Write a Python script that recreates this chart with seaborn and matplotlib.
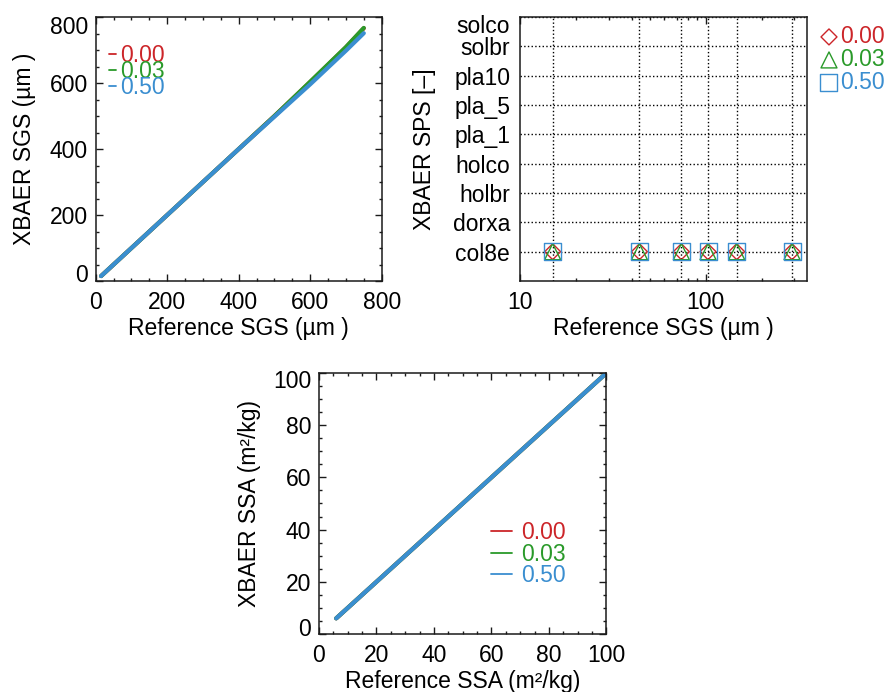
import numpy as np
import pandas as pd
import matplotlib
matplotlib.use("Agg")
import matplotlib.pyplot as plt
import seaborn as sns
from matplotlib.ticker import MultipleLocator, NullFormatter, LogLocator
from matplotlib.transforms import ScaledTranslation

# ---------------- data ----------------
series_labels = ["0.00", "0.03", "0.50"]
series_colors = ["#CC2529", "#2A9A2A", "#3A8ED0"]
series_markers = ["D", "^", "s"]
series_msize = [66, 132, 150]

# Panel 1: SGS
ref_sgs = [15, 100, 200, 300, 400, 500, 600, 700, 750]
xbaer_sgs_000 = [15, 100, 200, 300, 400, 500, 603, 708, 766]
xbaer_sgs_003 = [15, 100, 200, 300, 400, 500, 604, 709, 767]
xbaer_sgs_050 = [15, 100, 200, 300, 400, 498, 596, 698, 751]

# Panel 2: SPS
sps_categories = ["col8e", "dorxa", "holbr", "holco", "pla_1",
                  "pla_5", "pla10", "solbr", "solco"]
ref_sps_sgs = [15, 44, 74, 103, 147, 292]
xbaer_sps_000 = ["col8e", "col8e", "col8e", "col8e", "col8e", "col8e"]
xbaer_sps_003 = ["col8e", "col8e", "col8e", "col8e", "col8e", "col8e"]
xbaer_sps_050 = ["col8e", "col8e", "col8e", "col8e", "col8e", "col8e"]

# Panel 3: SSA
ref_ssa = [6, 20, 40, 60, 80, 100]
xbaer_ssa_000 = [6, 20, 40, 60, 80, 100]
xbaer_ssa_003 = [6, 20, 40, 60, 80, 100]
xbaer_ssa_050 = [6, 20, 40, 60, 80, 100]

# ---------------- style ----------------
sns.set_style("ticks")
plt.rcParams["font.family"] = ["Liberation Sans", "DejaVu Sans"]
FS = 16.5
plt.rcParams["font.size"] = FS
for k in ["text.color", "axes.labelcolor", "xtick.color", "ytick.color",
          "axes.edgecolor"]:
    plt.rcParams[k] = "black"

fig = plt.figure(figsize=(8.87, 6.92), dpi=100)
fig.patch.set_facecolor("white")

ax1 = fig.add_axes([0.1079, 0.5939, 0.3224, 0.3815])
ax2 = fig.add_axes([0.5862, 0.5939, 0.3232, 0.3815])
ax3 = fig.add_axes([0.3596, 0.0838, 0.3241, 0.3772])


def style_axes(ax):
    for sp in ax.spines.values():
        sp.set_visible(True)
        sp.set_linewidth(1.1)
        sp.set_color("#1a1a1a")
    ax.set_facecolor("white")
    ax.tick_params(which="both", direction="in", top=True, right=True,
                   color="#1a1a1a", labelcolor="black", labelsize=FS,
                   width=1.0)
    ax.tick_params(which="major", length=5)
    ax.tick_params(which="minor", length=2.5)
    ax.tick_params(axis="x", pad=7)
    ax.tick_params(axis="y", pad=5.5)


def long_df(ref, ys):
    return pd.DataFrame({
        "ref": list(ref) * len(ys),
        "val": [v for y in ys for v in y],
        "series": [lab for lab, y in zip(series_labels, ys) for _ in y],
    })


# ---------------- panel 1 ----------------
df1 = long_df(ref_sgs, [xbaer_sgs_000, xbaer_sgs_003, xbaer_sgs_050])
sns.lineplot(data=df1, x="ref", y="val", hue="series", hue_order=series_labels,
             palette=series_colors, lw=3.0, ax=ax1, legend=False,
             estimator=None, sort=False)
style_axes(ax1)
ax1.set_xlim(0, 800)
ax1.set_ylim(0, 800)
ax1.xaxis.set_major_locator(MultipleLocator(200))
ax1.xaxis.set_minor_locator(MultipleLocator(50))
ax1.yaxis.set_major_locator(MultipleLocator(200))
ax1.yaxis.set_minor_locator(MultipleLocator(50))
ax1.set_xlabel("Reference SGS (µm )", fontsize=FS, labelpad=2)
ax1.set_ylabel("XBAER SGS (µm )", fontsize=FS, labelpad=10)
leg1 = ax1.legend(handles=ax1.get_lines()[:3], labels=series_labels,
                  loc="upper left", bbox_to_anchor=(0.0465, 0.898),
                  frameon=False, borderpad=0, borderaxespad=0,
                  handlelength=0.3, handletextpad=0.2, labelspacing=-0.31,
                  fontsize=FS, labelcolor=series_colors)
for ln in leg1.get_lines():
    ln.set_linewidth(1.3)

# ---------------- panel 2 ----------------
ax2.set_xscale("log")
for lab, col, mk, ms, ys in zip(series_labels, series_colors, series_markers,
                                series_msize,
                                [xbaer_sps_000, xbaer_sps_003, xbaer_sps_050]):
    yidx = [sps_categories.index(v) for v in ys]
    sns.scatterplot(x=ref_sps_sgs, y=yidx, marker=mk, s=ms, facecolor="none",
                    edgecolor=col, linewidth=1.0, ax=ax2, label=lab,
                    legend=False, zorder=3)
style_axes(ax2)
ax2.set_xlim(10, 350)
ax2.set_ylim(-1, 8)
ax2.set_xticks([10, 100], ["10", "100"])
ax2.xaxis.set_minor_locator(LogLocator(base=10, subs=np.arange(2, 10)))
ax2.xaxis.set_minor_formatter(NullFormatter())
ax2.set_yticks(range(len(sps_categories)), sps_categories)
ax2.tick_params(axis="y", which="both", length=0, pad=7)
ax2.yaxis.grid(True, linestyle=":", color="black", linewidth=1.0)
for xv in ref_sps_sgs:
    ax2.axvline(xv, linestyle=":", color="black", linewidth=1.0, zorder=1)
ax2.set_xlabel("Reference SGS (µm )", fontsize=FS, labelpad=2)
ax2.set_ylabel("XBAER SPS [–]", fontsize=FS, labelpad=12)
leg2 = ax2.legend(handles=ax2.collections[:3], labels=series_labels,
                  loc="upper left", bbox_to_anchor=(1.05, 0.97),
                  frameon=False, borderpad=0, borderaxespad=0,
                  handlelength=0.7, handletextpad=0.15, labelspacing=0.0,
                  scatterpoints=1, fontsize=FS, labelcolor=series_colors)

# ---------------- panel 3 ----------------
df3 = long_df(ref_ssa, [xbaer_ssa_000, xbaer_ssa_003, xbaer_ssa_050])
sns.lineplot(data=df3, x="ref", y="val", hue="series", hue_order=series_labels,
             palette=series_colors, lw=3.0, ax=ax3, legend=False,
             estimator=None, sort=False)
style_axes(ax3)
ax3.set_xlim(0, 100)
ax3.set_ylim(0, 100)
ax3.xaxis.set_major_locator(MultipleLocator(20))
ax3.xaxis.set_minor_locator(MultipleLocator(5))
ax3.yaxis.set_major_locator(MultipleLocator(20))
ax3.yaxis.set_minor_locator(MultipleLocator(5))
ax3.set_xlabel("Reference SSA (m²/kg)", fontsize=FS, labelpad=2)
ax3.set_ylabel("XBAER SSA (m²/kg)", fontsize=FS, labelpad=9)
leg3 = ax3.legend(handles=ax3.get_lines()[:3], labels=series_labels,
                  loc="upper left", bbox_to_anchor=(0.597, 0.433),
                  frameon=False, borderpad=0, borderaxespad=0,
                  handlelength=0.95, handletextpad=0.4, labelspacing=-0.06,
                  fontsize=FS, labelcolor=series_colors)
for ln in leg3.get_lines():
    ln.set_linewidth(1.3)

# nudge end labels inward like the reference
fig.canvas.draw()


def nudge(ax, value, dy_pt):
    for tick in ax.yaxis.get_major_ticks():
        if np.isclose(tick.get_loc(), value):
            lab = tick.label1
            lab.set_transform(lab.get_transform() +
                              ScaledTranslation(0, dy_pt / 72.0,
                                                fig.dpi_scale_trans))


nudge(ax1, 0, 5.8)
nudge(ax1, 800, -5.8)
nudge(ax3, 0, 5.0)
nudge(ax3, 100, -4.3)
nudge(ax2, 8, -5.0)

fig.savefig("out.png", dpi=100, facecolor="white")
